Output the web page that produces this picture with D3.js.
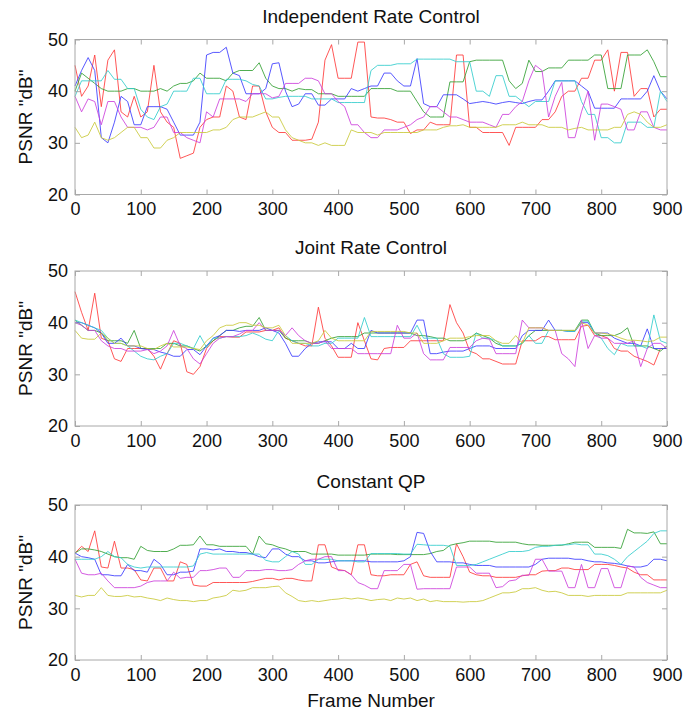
<!DOCTYPE html>
<html>
<head>
<meta charset="utf-8">
<script src="https://cdn.jsdelivr.net/npm/d3@7"></script>
<style>
  body { margin: 0; background: #fff; }
  svg { display: block; font-family: 'Liberation Sans', Arial, sans-serif; }
  .tick line { stroke: #a8a8a8; }
  .tick text { font-size: 18px; fill: #111; }
</style>
</head>
<body>
<div id="chart"></div>
<script>
const FRAME_STEP = 10
const X_TICKS = [0, 100, 200, 300, 400, 500, 600, 700, 800, 900]
const Y_TICKS = [20, 30, 40, 50]
const TITLES = ['Independent Rate Control', 'Joint Rate Control', 'Constant QP']
const SERIES_COLORS = ['#ff3a3a', '#33a033', '#3b3bff', '#33cccc', '#cc3fdc', '#c9c93a']

// --- Independent Rate Control ---
const indRed = [
  45, 39, 41, 47, 37, 46, 48, 36, 35, 39,
  35, 36, 45, 36, 34, 33, 27, 27.5, 28, 33,
  34.5, 35, 35, 41, 40, 35, 34.5, 41, 41, 36,
  33, 32, 32, 30.5, 30.5, 30.5, 30.7, 34, 46, 49,
  42.5, 42.5, 42.5, 49.5, 49.5, 35, 34.8, 34.8, 34.5, 34,
  34, 31.8, 32.5, 32.5, 34, 33.5, 33.5, 33.5, 47, 47,
  33, 33, 32, 32, 32, 32, 29.5, 33, 33, 33,
  33, 34.5, 34.5, 36, 39, 40, 40, 42.5, 42.5, 46,
  46, 48, 40, 47.5, 47.5, 39, 40.5, 40.5, 35, 36.5,
  36.5]
const indGreen = [
  40, 43.5, 42.5, 41.5, 40.5, 40, 40, 40, 40.5, 40.5,
  40, 40, 40, 40.5, 40, 41, 41.5, 41.5, 42, 43.5,
  42.5, 42.5, 42.5, 42, 43.5, 44, 44, 44, 45.5, 42.5,
  41, 40.5, 40.5, 40, 40.5, 40.3, 40.3, 39.5, 39.5, 39.5,
  39, 39, 39, 39, 39, 40.5, 40.5, 40.5, 40.5, 40,
  40, 40, 38, 36, 35, 35, 35, 41.8, 41.8, 41.8,
  45.7, 46, 46, 46, 46, 46, 42, 40.5, 41.5, 46,
  43.8, 43.8, 44.5, 44.5, 44.5, 46, 46, 46, 46, 47,
  47, 40.5, 40.5, 40.5, 47, 47, 47, 48, 45.7, 42.8,
  42.8]
const indBlue = [
  41, 44, 46.5, 44, 31, 30, 34, 39, 38, 33.5,
  33.5, 37, 37, 37, 36.5, 34, 31.5, 31.5, 31.5, 34,
  47, 47.5, 47.5, 48.5, 43.5, 43, 39.5, 39.5, 39.5, 40.5,
  45.3, 45.5, 40, 37, 37.5, 39.5, 39.5, 37.3, 37.3, 38.5,
  38.5, 38.5, 40.5, 40, 40.5, 41, 41, 43.5, 43.5, 42,
  41, 41, 46.3, 37.6, 37, 37, 39.3, 39.3, 39.3, 38.5,
  37.6, 37.8, 38, 37.8, 37.5, 37.8, 38, 37.8, 37.6, 38,
  38.3, 38.3, 40, 42, 42, 42, 42, 41, 40, 36.7,
  36.7, 36.7, 36.7, 38.5, 38.5, 38.5, 38.5, 40, 43, 40,
  38.5]
const indCyan = [
  39, 42, 42, 42, 42, 44, 42.3, 42.3, 40.5, 40.5,
  36.5, 35, 34.5, 37, 37.5, 40, 40, 40, 42.5, 42.5,
  39.5, 39.5, 39.5, 42.3, 42.3, 42.3, 42, 41.3, 41, 38.5,
  38.5, 38.8, 39, 39, 39, 39, 38.5, 38.5, 38.5, 38.5,
  37.8, 37.8, 37.8, 37.8, 37.8, 44, 45, 45, 45, 45.3,
  45.3, 45.3, 46.2, 46.2, 46.2, 46.2, 46.2, 46.2, 45.7, 45.7,
  45.7, 40, 40, 39, 43, 43, 39, 39, 38, 37,
  38, 38, 38, 42, 42, 42, 42, 38, 35.5, 35.5,
  31, 31, 30, 30, 34, 34, 34, 33, 33, 40,
  38]
const indMagenta = [
  39, 36, 38.5, 38, 33.5, 38, 38, 35, 33, 33,
  33, 32.5, 33, 35, 35, 32, 32, 31, 30.5, 30,
  36, 35, 38.5, 38.5, 38.5, 38.5, 38, 39.5, 39.5, 39.5,
  38.7, 39, 41.5, 41.5, 41.5, 42.5, 42.5, 42, 39.5, 39.5,
  38, 37, 33.5, 33.5, 32, 31, 31, 32.5, 32.5, 32.5,
  33, 33.5, 34.5, 35, 37, 37, 36, 35, 35, 34.5,
  34, 34, 34, 33.5, 33, 35.5, 35.5, 37, 38, 42,
  45, 44, 35, 39, 41.7, 31, 31, 36, 40, 30.5,
  37.5, 37.5, 37, 36.5, 32.5, 32.5, 36, 36, 33, 32.5,
  32.5]
const indYellow = [
  33, 31, 31.5, 34, 31, 30.5, 31, 32, 33, 33,
  31, 31, 29, 29, 30.5, 31, 32, 32, 32, 32,
  32, 32.5, 32.5, 33, 34.5, 35, 35, 35, 35.5, 36,
  35, 35, 32.5, 31, 30.5, 30, 30, 29.5, 30, 29.5,
  29.5, 29.5, 32.5, 32, 32, 32, 31.5, 32, 32, 32,
  32, 32, 32, 32.5, 32.5, 32.5, 33, 33.3, 33.3, 33.5,
  33, 33, 33, 33, 33, 33.5, 33.5, 33.5, 34, 33.5,
  33.5, 33.5, 33, 33, 33, 32.5, 32.8, 33, 32.5, 32.5,
  32.5, 32.5, 33, 33, 35.5, 36, 35.5, 34, 33, 33,
  33.5]

// --- Joint Rate Control ---
const jointRed = [
  46, 42, 38.5, 45.7, 37, 36.5, 33, 32.5, 35, 35,
  35, 35, 33.5, 31, 34, 36.5, 36, 30.5, 30, 31.5,
  35, 36.5, 37.3, 37.3, 37.2, 37.2, 38.2, 38.2, 38.2, 38.5,
  38.5, 39, 37, 36.5, 36, 35.5, 35.5, 43, 37, 35.5,
  33.3, 33.3, 33.3, 40, 36.5, 33, 32.8, 35, 35.2, 35.2,
  35.2, 36.5, 36.5, 36.5, 36.5, 36.5, 36.5, 43.5, 40, 38,
  34.5, 34, 33, 33, 32.5, 32, 32, 32, 36.5, 36.5,
  36.5, 37.3, 37.3, 36.7, 36.7, 36.7, 36.7, 39.3, 39.5, 37.5,
  37.5, 37, 35, 34.5, 34.5, 33.5, 33, 32.5, 31.8, 35,
  35]
const jointGreen = [
  40.5, 39.5, 38.5, 38.5, 38, 36.5, 36.5, 36.5, 36, 38.5,
  35, 35, 35, 35, 36, 36, 35.5, 35.5, 35, 34.5,
  35.5, 36.5, 37.5, 38.5, 38.5, 39, 39.3, 39.3, 41, 38.5,
  38.5, 38.5, 37, 36.5, 36.5, 36.5, 36, 36, 36.5, 37,
  37.3, 37.3, 37.3, 37.3, 38, 38, 38, 38, 38, 38,
  38, 38, 37.5, 37.5, 37.3, 37, 37, 36.5, 36.5, 36.5,
  37, 38, 37.5, 37, 36, 35.5, 35.5, 35.5, 36, 37.5,
  38.5, 38.5, 38.5, 38.5, 38.5, 38.5, 38.5, 40.5, 40.5, 38,
  37.5, 37.5, 37.5, 38, 39, 35.5, 35.5, 35.5, 35, 34.5,
  35.5]
const jointBlue = [
  40, 40, 39.5, 39, 38, 36, 36, 37, 35.5, 35.5,
  35, 34.8, 34.8, 34.3, 34, 33.5, 33.5, 34.8, 34.8, 33.8,
  35.5, 37, 37.5, 38.5, 38.5, 38.3, 38.5, 38.5, 38.5, 39,
  38.5, 38, 36, 33.5, 33.5, 35, 36, 36.3, 36.3, 36.3,
  35, 35, 36, 35, 35, 38.5, 38, 38, 38, 38,
  38, 38, 40.5, 40.5, 34, 34, 34.3, 34.5, 34.5, 34.5,
  35, 35.5, 35.5, 35.5, 35, 35, 35, 35, 37.5, 38.5,
  38.5, 38.5, 40.5, 38.5, 38.5, 38.3, 38.3, 40, 40, 38,
  38, 38, 37, 36.5, 36, 36, 35.5, 38.8, 35, 35,
  35]
const jointCyan = [
  40.5, 40, 39.5, 39, 38.5, 37, 36, 36, 35.5, 34.5,
  33.5, 33, 32.8, 33.5, 34, 36, 36, 35.5, 35, 37.5,
  35.2, 37, 37, 37.3, 37.3, 37.3, 37.5, 38, 37.5, 36.8,
  36.5, 38.5, 37.5, 36.5, 36, 36, 35.5, 35.5, 36, 36,
  37, 37, 37, 37, 41, 37.3, 37.3, 37.3, 37.3, 37.3,
  37.3, 37.3, 39.5, 37, 37, 37, 34, 33.3, 33.3, 33.3,
  33.5, 38, 37, 37, 36.5, 35.5, 35.5, 35.5, 36, 37.5,
  36, 36, 38.5, 38.5, 38.5, 38.3, 38.3, 40.3, 40.3, 38,
  37, 35, 33.8, 36, 35.5, 35.5, 35.5, 35, 41.5, 36.5,
  36]
const jointMagenta = [
  40, 39.5, 38.5, 38.5, 36.5, 35.5, 35, 35, 34.5, 34.5,
  34.5, 34.8, 34, 34.5, 35.5, 38.5, 35.5, 35, 33, 32,
  34, 36, 37, 37.3, 37.3, 37.8, 38.5, 38.5, 40, 38.5,
  38.5, 38.5, 37.5, 39, 37.5, 36.5, 36, 36, 36.5, 35,
  35, 35, 35, 34, 34, 34, 34, 34, 34, 39.5,
  37, 37, 38, 34, 32.8, 32.8, 32.8, 35.2, 35.2, 35.2,
  35.2, 36.5, 37, 36.8, 34, 34, 34, 34, 40.5, 39,
  39, 39, 38.5, 38.5, 34, 33, 31.5, 40.5, 35, 37.5,
  37, 37, 36, 36, 36, 36.5, 31.5, 35, 36, 36,
  35]
const jointYellow = [
  38.5, 37, 36.8, 36.8, 38, 37, 36, 36, 35.5, 35.5,
  35.5, 35, 34.8, 35.5, 36, 35.3, 35.3, 35.3, 35, 34.8,
  36.5, 37.5, 39, 39.5, 39.5, 40, 40, 39.5, 39.5, 39,
  39, 39.5, 37.5, 36, 36, 36, 36, 36.5, 38.5, 37,
  36.5, 36.5, 36.5, 36.5, 36.5, 38.3, 38.3, 38.3, 38.3, 38.3,
  38.3, 38, 38, 36, 36, 36, 36.5, 37, 37, 37,
  37.3, 37.5, 37.5, 37.5, 36.5, 36, 36, 37.5, 36, 39,
  39, 39, 38.5, 38.5, 38.5, 38.5, 38.5, 40, 39.5, 38,
  38, 37.8, 37.5, 37, 36.6, 36.6, 36.5, 36.3, 36.5, 37.2,
  37.2]

// --- Constant QP ---
const qpRed = [
  40.7, 42, 41, 45, 38, 37.8, 43, 37.8, 37.8, 37.5,
  35.5, 35.3, 37.8, 37.8, 35.3, 35.3, 39, 38.5, 34.5, 34.3,
  34.3, 35, 35, 35, 35, 35, 35, 35.2, 35.5, 35.8,
  35.8, 35.5, 35.8, 35.8, 35.5, 35.3, 35.3, 42.3, 42.3, 38,
  37.5, 37.3, 36.5, 42.3, 42.3, 36.5, 36.3, 36.3, 36.5, 36.5,
  36.5, 38.5, 39, 36.3, 36, 36, 36, 36, 42.5, 40,
  37, 36.5, 36.3, 36.3, 36, 36, 36, 36, 36.3, 36.5,
  36.5, 37.2, 37.3, 37.3, 37.8, 37.8, 37.5, 37.5, 37.5, 38.5,
  38.5, 38.5, 38.3, 38, 37.8, 37, 36.5, 36.5, 35.5, 35.5,
  35.5]
const qpGreen = [
  40.7, 41.5, 41.5, 41.3, 41, 40.5, 40, 39.8, 39.8, 39.5,
  42, 41.2, 41, 41, 41, 41.5, 42.2, 42.2, 42.3, 44,
  42.3, 42.3, 42, 42, 42, 42, 42, 40.5, 44, 42.5,
  42.3, 41.8, 41.5, 41, 41, 41, 40.5, 40.5, 40.5, 40.5,
  40.3, 40.3, 40.3, 40.3, 40.3, 40.5, 40.5, 40.5, 40.5, 40.4,
  40.4, 40.4, 40.4, 40.4, 40.6, 41, 41.2, 42.2, 42.5, 42.7,
  43, 43, 43, 43, 42.8, 42.8, 42.8, 42.8, 42.5, 42.3,
  42.3, 42.2, 42.2, 42.2, 42.2, 42.5, 42.8, 42.8, 42.8, 41.8,
  41.8, 41.8, 41.8, 41.6, 45.3, 44.6, 44.6, 44.5, 44.8, 42.5,
  42.5]
const qpBlue = [
  40.7, 40, 39.8, 39.5, 36.5, 36.5, 36.3, 36.3, 38.5, 37.3,
  37.3, 37, 39.5, 38.5, 36.5, 36.5, 37, 37, 37.2, 41.5,
  41.5, 41.3, 41.5, 41, 41, 40.8, 40.8, 40.5, 40, 39.8,
  41.5, 41.5, 40.5, 40, 40, 39.2, 39.2, 38.8, 38.8, 39,
  39.2, 39.2, 39.2, 39.2, 39.2, 39, 39, 39, 39, 39,
  39.2, 40, 44.7, 44.5, 41, 39, 39, 39, 38.8, 38.8,
  38.5, 38.3, 38.3, 38.3, 38, 38, 38, 38, 38, 38,
  38.5, 39.5, 39.7, 39.7, 39.7, 39.7, 39.5, 39.5, 39.2, 39,
  39, 38.8, 38.7, 38.5, 38.2, 38, 38, 38.3, 39.5, 39.5,
  39.2]
const qpCyan = [
  39.5, 39.5, 39.5, 39.5, 40, 41, 40, 39.8, 38.5, 38,
  37.8, 38, 38, 38, 38, 38, 38, 38, 38.2, 40.5,
  40.8, 40.5, 40.5, 40.5, 40.5, 40.5, 40.5, 40.5, 40.5, 39.3,
  39, 39, 40, 41, 40.5, 38.5, 38.5, 39.5, 39.5, 39.5,
  39.2, 39.2, 39.2, 39, 39, 40.6, 40.6, 40.6, 40.6, 40.6,
  40.5, 40.5, 42.4, 42.3, 42.2, 42.2, 42.2, 42, 38.3, 38.3,
  38.3, 38.5, 39, 39.5, 40, 40.5, 41, 41, 41, 41.2,
  41.8, 42, 42, 42.2, 42.3, 42.3, 42.5, 42.3, 42.3, 40.5,
  40.5, 40.2, 39.5, 38.5, 40, 41, 42, 43, 44.5, 45,
  45]
const qpMagenta = [
  39.5, 36.8, 36.5, 36.5, 36.8, 35.3, 34, 34, 34, 34,
  34.3, 35, 35.3, 35.3, 35.3, 37, 35.8, 36, 36, 37.3,
  37.3, 37.5, 37.8, 37.8, 36, 36, 37.3, 37.3, 37.3, 37.5,
  37.5, 37.3, 37.3, 37.5, 38.5, 39.2, 39.5, 39.5, 40, 40,
  37.3, 37.3, 36.5, 35, 34.5, 33.8, 33.8, 37.3, 37.3, 37.3,
  38.5, 38.5, 33.7, 33.8, 33.8, 33.8, 33.8, 33.8, 38, 38,
  38, 36.8, 36.8, 36.8, 34, 34.2, 35.3, 35.5, 36.4, 36.4,
  39.5, 39.5, 37.2, 37.2, 37.2, 34, 34, 38.5, 34, 34,
  37.7, 37.7, 34, 34, 38.2, 38, 36, 35, 34.5, 34,
  34]
const qpYellow = [
  32.5, 32.2, 32.5, 32.5, 34, 32.5, 32.3, 32.3, 32.5, 32.2,
  32.3, 32, 31.8, 31.5, 32, 31.7, 31.5, 31.5, 31.3, 31.5,
  31.5, 32, 32.2, 32.5, 33.5, 33.3, 33.5, 34, 34, 34,
  34.2, 34.3, 33, 32.3, 31.5, 31.3, 31.5, 31.3, 31.5, 31.7,
  31.8, 32, 31.8, 32, 31.8, 31.5, 31.7, 31.8, 31.5, 32,
  31.8, 32, 31.5, 31.8, 31.3, 31.5, 31.3, 31.3, 31.3, 31.2,
  31.3, 31.3, 31.5, 32, 32.5, 33, 33, 33.2, 33.8, 33.8,
  34, 33.5, 33.2, 33.3, 33, 32.5, 32.5, 32.5, 32.3, 32.5,
  32.5, 32.5, 32.5, 32.5, 33, 33, 33, 33, 33, 33,
  33.5]

const panels = [
  [indRed, indGreen, indBlue, indCyan, indMagenta, indYellow],
  [jointRed, jointGreen, jointBlue, jointCyan, jointMagenta, jointYellow],
  [qpRed, qpGreen, qpBlue, qpCyan, qpMagenta, qpYellow],
]

const WIDTH = 700
const HEIGHT = 713
const PLOT_LEFT = 75
const PLOT_RIGHT = 667
const PLOT_H = 155
const PANEL_TOPS = [39.5, 271, 505]
const AXIS_COLOR = '#a8a8a8'

const svg = d3
  .select('#chart')
  .append('svg')
  .attr('width', WIDTH)
  .attr('height', HEIGHT)

const x = d3.scaleLinear().domain([0, 900]).range([PLOT_LEFT, PLOT_RIGHT])

panels.forEach((series, p) => {
  const top = PANEL_TOPS[p]
  const y = d3
    .scaleLinear()
    .domain([20, 50])
    .range([top + PLOT_H, top])

  const g = svg.append('g').attr('class', 'panel')

  // series lines
  const line = d3
    .line()
    .x((d, i) => x(i * FRAME_STEP))
    .y(d => y(d))

  g.append('g')
    .selectAll('path')
    .data(series)
    .join('path')
    .attr('d', d => line(d))
    .attr('fill', 'none')
    .attr('stroke', (d, i) => SERIES_COLORS[i])
    .attr('stroke-width', 1)
    .attr('stroke-opacity', 0.85)
    .attr('stroke-linejoin', 'round')

  // box + inward ticks on all four sides
  g.append('rect')
    .attr('x', PLOT_LEFT)
    .attr('y', top)
    .attr('width', PLOT_RIGHT - PLOT_LEFT)
    .attr('height', PLOT_H)
    .attr('fill', 'none')
    .attr('stroke', AXIS_COLOR)
    .attr('stroke-width', 1)

  const bottom = g
    .append('g')
    .attr('transform', `translate(0,${top + PLOT_H})`)
    .call(
      d3
        .axisBottom(x)
        .tickValues(X_TICKS)
        .tickSizeInner(-5)
        .tickSizeOuter(0)
        .tickPadding(8)
    )
  bottom.select('.domain').remove()

  const topAxis = g
    .append('g')
    .attr('transform', `translate(0,${top})`)
    .call(d3.axisTop(x).tickValues(X_TICKS).tickSizeInner(-5).tickSizeOuter(0).tickFormat(''))
  topAxis.select('.domain').remove()

  const left = g
    .append('g')
    .attr('transform', `translate(${PLOT_LEFT},0)`)
    .call(
      d3
        .axisLeft(y)
        .tickValues(Y_TICKS)
        .tickSizeInner(-5)
        .tickSizeOuter(0)
        .tickPadding(7)
    )
  left.select('.domain').remove()

  const right = g
    .append('g')
    .attr('transform', `translate(${PLOT_RIGHT},0)`)
    .call(d3.axisRight(y).tickValues(Y_TICKS).tickSizeInner(-5).tickSizeOuter(0).tickFormat(''))
  right.select('.domain').remove()

  g.selectAll('.tick text').attr('font-family', null).attr('font-size', null)

  // title
  g.append('text')
    .attr('x', (PLOT_LEFT + PLOT_RIGHT) / 2)
    .attr('y', top - 17)
    .attr('text-anchor', 'middle')
    .attr('font-size', '19px')
    .attr('fill', '#111')
    .text(TITLES[p])

  // y label
  g.append('text')
    .attr('transform', `translate(32,${top + PLOT_H / 2}) rotate(-90)`)
    .attr('text-anchor', 'middle')
    .attr('font-size', '19px')
    .attr('fill', '#111')
    .text('PSNR "dB"')
})

svg
  .append('text')
  .attr('x', (PLOT_LEFT + PLOT_RIGHT) / 2)
  .attr('y', 707)
  .attr('text-anchor', 'middle')
  .attr('font-size', '19px')
  .attr('fill', '#111')
  .text('Frame Number')
</script>
</body>
</html>
